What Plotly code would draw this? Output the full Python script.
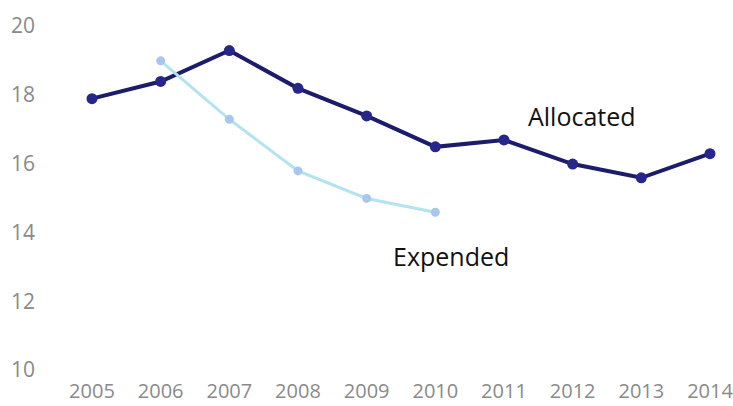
import plotly.graph_objects as go

years = [2005, 2006, 2007, 2008, 2009, 2010, 2011, 2012, 2013, 2014]
allocated = [17.8, 18.3, 19.2, 18.1, 17.3, 16.4, 16.6, 15.9, 15.5, 16.2]
exp_years = [2006, 2007, 2008, 2009, 2010]
expended = [18.9, 17.2, 15.7, 14.9, 14.5]
y_ticks = [10, 12, 14, 16, 18, 20]

fig = go.Figure()
fig.add_trace(go.Scatter(
    x=years, y=allocated, mode="lines+markers", name="Allocated",
    line=dict(color="#1c1c6b", width=4),
    marker=dict(color="#26268c", size=11),
))
fig.add_trace(go.Scatter(
    x=exp_years, y=expended, mode="lines+markers", name="Expended",
    line=dict(color="#b3e3ee", width=3),
    marker=dict(color="#a9c6ee", size=9),
))

fig.add_annotation(x=2011.32, y=17.3, yanchor="middle", text="Allocated", showarrow=False,
                   font=dict(family="Open Sans", size=25, color="#111111"), xanchor="left")
fig.add_annotation(x=2009.35, y=13.23, yanchor="middle", text="Expended", showarrow=False,
                   font=dict(family="Open Sans", size=25, color="#111111"), xanchor="left")

fig.update_layout(
    width=733, height=406,
    margin=dict(l=58, r=0, t=23, b=39),
    paper_bgcolor="white", plot_bgcolor="white",
    showlegend=False,
    font=dict(family="Open Sans", color="#8a8a8a", size=21),
    xaxis=dict(range=[2004.505, 2014.335], tickvals=years, ticktext=[str(y) for y in years],
               showgrid=False, zeroline=False, showline=False, ticks="",
               tickfont=dict(size=20), ticklabeloverflow="allow", automargin=False,
               ticklabelstandoff=10),
    yaxis=dict(range=[10, 20], tickvals=y_ticks, showgrid=False, zeroline=False,
               showline=False, ticks="", ticklabelstandoff=22, ticklabelshift=3,
               automargin=False),
)
fig.write_html("out.html")
